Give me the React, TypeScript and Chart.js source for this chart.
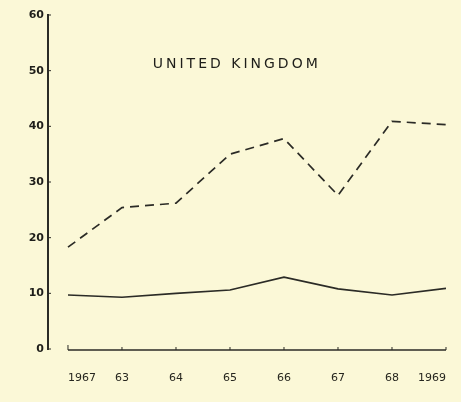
import React, { useEffect, useRef } from 'react';
import { Chart, registerables } from 'chart.js';

Chart.register(...registerables);

const yearLabels = ['1967', '63', '64', '65', '66', '67', '68', '1969'];
const dashedSeries = [18.3, 25.4, 26.2, 35.0, 37.8, 27.6, 40.9, 40.3];
const solidSeries = [9.7, 9.3, 10.0, 10.6, 12.9, 10.8, 9.7, 10.9];
const yTickValues = [0, 10, 20, 30, 40, 50, 60];
const titleText = 'UNITED KINGDOM';

const BG = '#fbf8d7';
const INK = '#2b2b26';

const decorPlugin = {
  id: 'decor',
  beforeDraw(chart: any) {
    const { ctx, width, height } = chart;
    ctx.save();
    ctx.fillStyle = BG;
    ctx.fillRect(0, 0, width, height);
    ctx.restore();
  },
  afterDraw(chart: any) {
    const { ctx } = chart;
    const x = chart.scales.x;
    const y = chart.scales.y;
    ctx.save();
    ctx.strokeStyle = INK;
    ctx.lineWidth = 1.3;
    const y0 = y.getPixelForValue(0) + 1;
    ctx.beginPath();
    ctx.moveTo(x.getPixelForValue(0), y0);
    ctx.lineTo(x.getPixelForValue(yearLabels.length - 1), y0);
    ctx.stroke();
    ctx.lineWidth = 1;
    for (let i = 0; i < yearLabels.length; i++) {
      const px = x.getPixelForValue(i);
      ctx.beginPath();
      ctx.moveTo(px, y0);
      ctx.lineTo(px, y0 - (i === 0 ? 5 : 3));
      ctx.stroke();
    }
    const axX = chart.chartArea.left;
    for (const v of yTickValues) {
      const py = y.getPixelForValue(v);
      ctx.beginPath();
      ctx.moveTo(axX, py);
      ctx.lineTo(axX + 3, py);
      ctx.stroke();
    }
    ctx.fillStyle = '#1e1e1a';
    ctx.font = '14px "DejaVu Sans", sans-serif';
    (ctx as any).letterSpacing = '3px';
    ctx.textAlign = 'left';
    ctx.textBaseline = 'middle';
    ctx.fillText(titleText, x.getPixelForValue(1.57), y.getPixelForValue(51.1));
    ctx.restore();
  },
};

export default function App() {
  const ref = useRef<HTMLCanvasElement | null>(null);

  useEffect(() => {
    document.body.style.margin = '0';
    const canvas = ref.current;
    if (!canvas) return;
    const chart = new Chart(canvas, {
      type: 'line',
      data: {
        datasets: [
          {
            label: 'dashed',
            data: dashedSeries.map((v, i) => ({ x: i, y: v })),
            borderColor: INK,
            borderWidth: 1.7,
            borderDash: [9, 6],
            pointRadius: 0,
            tension: 0,
            fill: false,
          },
          {
            label: 'solid',
            data: solidSeries.map((v, i) => ({ x: i, y: v })),
            borderColor: INK,
            borderWidth: 1.7,
            pointRadius: 0,
            tension: 0,
            fill: false,
          },
        ],
      },
      plugins: [decorPlugin],
      options: {
        animation: false,
        responsive: false,
        devicePixelRatio: 1,
        layout: { padding: { top: 15, right: 0, left: 0, bottom: 0 } },
        plugins: {
          legend: { display: false },
          tooltip: { enabled: false },
          title: { display: false },
        },
        scales: {
          x: {
            type: 'linear',
            min: -0.37,
            max: yearLabels.length - 1,
            afterBuildTicks: (s: any) => {
              s.ticks = yearLabels.map((_, i) => ({ value: i }));
            },
            afterFit: (s: any) => {
              s.height = 53;
              s.paddingRight = 15;
            },
            grid: { display: false, drawTicks: false },
            border: { display: false },
            ticks: {
              autoSkip: false,
              maxRotation: 0,
              align: 'inner',
              padding: 23,
              color: '#26261f',
              font: { family: '"DejaVu Sans", sans-serif', size: 11 },
              callback: (v: any) => yearLabels[v] ?? '',
            },
          },
          y: {
            type: 'linear',
            min: 0,
            max: 60,
            afterBuildTicks: (s: any) => {
              s.ticks = yTickValues.map((v) => ({ value: v }));
            },
            afterFit: (s: any) => {
              s.width = 48;
            },
            grid: { display: false, drawTicks: false },
            border: { display: true, color: INK, width: 2 },
            ticks: {
              padding: 4,
              color: '#1e1e1a',
              font: { family: '"DejaVu Sans", sans-serif', size: 11, weight: 'bold' },
            },
          },
        },
      },
    } as any);
    return () => chart.destroy();
  }, []);

  return (
    <div style={{ position: 'fixed', inset: 0, background: BG }}>
      <canvas ref={ref} width={461} height={402} style={{ display: 'block' }} />
    </div>
  );
}
